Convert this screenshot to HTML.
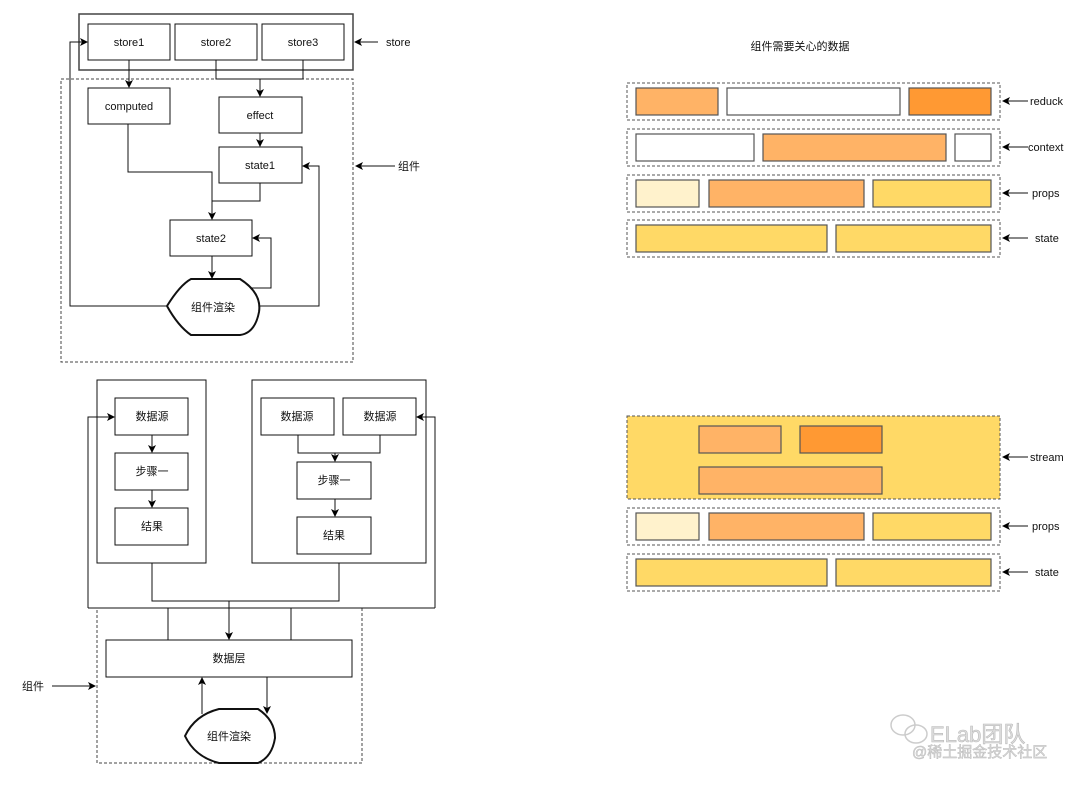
<!DOCTYPE html>
<html><head><meta charset="utf-8"><style>
html,body{margin:0;padding:0;background:#fff;}
svg text{font-family:"Liberation Sans","Noto Sans CJK SC",sans-serif;font-size:11px;fill:#111;}
</style></head><body>
<svg width="1080" height="780" viewBox="0 0 1080 780" xmlns="http://www.w3.org/2000/svg">
<defs><marker id="a" markerWidth="8" markerHeight="8" refX="7" refY="4" orient="auto" markerUnits="userSpaceOnUse"><path d="M0,0 L8,4 L0,8 L2,4 z" fill="#000"/></marker></defs>
<g fill="#fff" stroke="#111" stroke-width="1">
<rect x="79" y="14" width="274" height="56" stroke="#444" stroke-width="1.5"/>
<rect x="88" y="24" width="82" height="36"/><rect x="175" y="24" width="82" height="36"/><rect x="262" y="24" width="82" height="36"/>
<rect x="61" y="79" width="292" height="283" fill="none" stroke="#444" stroke-dasharray="3,2"/>
<rect x="88" y="88" width="82" height="36"/><rect x="219" y="97" width="83" height="36"/>
<rect x="219" y="147" width="83" height="36"/><rect x="170" y="220" width="82" height="36"/>
<path d="M167,306 Q180,285 191,279 L240,279 Q262,293 259,312 Q255,333 240,335 L191,335 Q178,326 167,306Z" stroke-width="2"/>
</g>
<g fill="none" stroke="#111" stroke-width="1">
<path d="M129,60 V87" marker-end="url(#a)"/>
<path d="M216,60 V79 H303 V60 M260,79 V96" marker-end="url(#a)"/>
<path d="M260,133 V146" marker-end="url(#a)"/>
<path d="M128,124 V172 H212 V219" marker-end="url(#a)"/>
<path d="M260,183 V201 H212"/>
<path d="M212,256 V278" marker-end="url(#a)"/>
<path d="M252,288 H271 V238 H253" marker-end="url(#a)"/>
<path d="M167,306 H70 V42 H87" marker-end="url(#a)"/>
<path d="M259,306 H319 V166 H303" marker-end="url(#a)"/>
<path d="M378,42 H355" marker-end="url(#a)"/>
<path d="M395,166 H356" marker-end="url(#a)"/>
</g>
<g text-anchor="middle">
<text x="129" y="46">store1</text><text x="216" y="46">store2</text><text x="303" y="46">store3</text>
<text x="129" y="110">computed</text><text x="260" y="119">effect</text><text x="260" y="169">state1</text><text x="211" y="242">state2</text>
<text x="213" y="311">组件渲染</text>
</g>
<text x="386" y="46">store</text><text x="398" y="170">组件</text>

<g fill="#fff" stroke="#111" stroke-width="1">
<rect x="97" y="380" width="109" height="183"/><rect x="252" y="380" width="174" height="183"/>
<rect x="115" y="398" width="73" height="37"/><rect x="115" y="453" width="73" height="37"/><rect x="115" y="508" width="73" height="37"/>
<rect x="261" y="398" width="73" height="37"/><rect x="343" y="398" width="73" height="37"/>
<rect x="297" y="462" width="74" height="37"/><rect x="297" y="517" width="74" height="37"/>
<rect x="97" y="608" width="265" height="155" fill="none" stroke="#444" stroke-dasharray="3,2"/>
<rect x="106" y="640" width="246" height="37"/>
<path d="M185,736 Q195,715 219,709 L258,709 Q275,720 275,738 Q272,757 258,763 L219,763 Q195,757 185,736Z" stroke-width="2"/>
</g>
<g fill="none" stroke="#111" stroke-width="1">
<path d="M152,435 V452" marker-end="url(#a)"/><path d="M152,490 V507" marker-end="url(#a)"/>
<path d="M298,435 V453 H380 V435 M335,453 V461" marker-end="url(#a)"/>
<path d="M335,499 V516" marker-end="url(#a)"/>
<path d="M152,563 V601 H339 V563 M229,601 V639" marker-end="url(#a)"/>
<path d="M88,608 H435 M168,608 V640 M291,608 V640"/>
<path d="M88,608 V417 H114" marker-end="url(#a)"/>
<path d="M435,608 V417 H417" marker-end="url(#a)"/>
<path d="M202,714 V678" marker-end="url(#a)"/>
<path d="M267,677 V713" marker-end="url(#a)"/>
<path d="M52,686 H95" marker-end="url(#a)"/>
</g>
<g text-anchor="middle">
<text x="152" y="420">数据源</text><text x="152" y="475">步骤一</text><text x="152" y="530">结果</text>
<text x="297" y="420">数据源</text><text x="380" y="420">数据源</text><text x="334" y="484">步骤一</text><text x="334" y="539">结果</text>
<text x="229" y="662">数据层</text><text x="229" y="740">组件渲染</text>
</g>
<text x="22" y="690">组件</text>

<text x="800" y="50" text-anchor="middle">组件需要关心的数据</text>
<g stroke="#555" stroke-dasharray="3,2" fill="none">
<rect x="627" y="83" width="373" height="37"/><rect x="627" y="129" width="373" height="37"/>
<rect x="627" y="175" width="373" height="37"/><rect x="627" y="220" width="373" height="37"/>
<rect x="627" y="416" width="373" height="83" fill="#FFD966"/>
<rect x="627" y="508" width="373" height="37"/><rect x="627" y="554" width="373" height="37"/>
</g>
<g stroke="#555" stroke-width="1.2">
<rect x="636" y="88" width="82" height="27" fill="#FFB366"/><rect x="727" y="88" width="173" height="27" fill="#fff"/><rect x="909" y="88" width="82" height="27" fill="#FF9933"/>
<rect x="636" y="134" width="118" height="27" fill="#fff"/><rect x="763" y="134" width="183" height="27" fill="#FFB366"/><rect x="955" y="134" width="36" height="27" fill="#fff"/>
<rect x="636" y="180" width="63" height="27" fill="#FFF2CC"/><rect x="709" y="180" width="155" height="27" fill="#FFB366"/><rect x="873" y="180" width="118" height="27" fill="#FFD966"/>
<rect x="636" y="225" width="191" height="27" fill="#FFD966"/><rect x="836" y="225" width="155" height="27" fill="#FFD966"/>
<rect x="699" y="426" width="82" height="27" fill="#FFB366"/><rect x="800" y="426" width="82" height="27" fill="#FF9933"/><rect x="699" y="467" width="183" height="27" fill="#FFB366"/>
<rect x="636" y="513" width="63" height="27" fill="#FFF2CC"/><rect x="709" y="513" width="155" height="27" fill="#FFB366"/><rect x="873" y="513" width="118" height="27" fill="#FFD966"/>
<rect x="636" y="559" width="191" height="27" fill="#FFD966"/><rect x="836" y="559" width="155" height="27" fill="#FFD966"/>
</g>
<g fill="none" stroke="#111">
<path d="M1028,101 H1003" marker-end="url(#a)"/><path d="M1028,147 H1003" marker-end="url(#a)"/>
<path d="M1028,193 H1003" marker-end="url(#a)"/><path d="M1028,238 H1003" marker-end="url(#a)"/>
<path d="M1028,457 H1003" marker-end="url(#a)"/><path d="M1028,526 H1003" marker-end="url(#a)"/><path d="M1028,572 H1003" marker-end="url(#a)"/>
</g>
<text x="1030" y="105">reduck</text><text x="1028" y="151">context</text><text x="1032" y="197">props</text><text x="1035" y="242">state</text>
<text x="1030" y="461">stream</text><text x="1032" y="530">props</text><text x="1035" y="576">state</text>

<g fill="none" stroke="#ccc" stroke-width="1.5">
<ellipse cx="903" cy="725" rx="12" ry="10"/><ellipse cx="916" cy="734" rx="11" ry="9"/>
</g>
<text x="930" y="742" style="font-size:22px;fill:#ddd;stroke:#bbb;stroke-width:0.6">ELab团队</text>
<text x="912" y="757" style="font-size:15px;fill:#ddd;stroke:#bbb;stroke-width:0.5">@稀土掘金技术社区</text>
</svg>
</body></html>
